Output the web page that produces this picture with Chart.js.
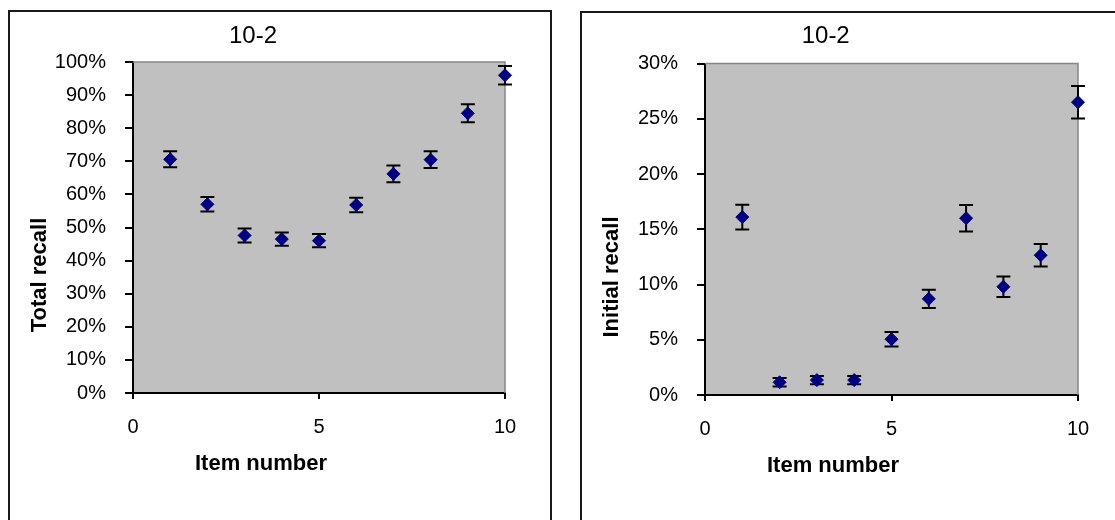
<!DOCTYPE html>
<html>
<head>
<meta charset="utf-8">
<script src="https://cdn.jsdelivr.net/npm/chart.js@4.4.1/dist/chart.umd.min.js"></script>
<style>
  html, body { margin: 0; padding: 0; background: #fff; width: 1115px; height: 520px; overflow: hidden; }
  .frame { position: absolute; box-sizing: border-box; border: 2px solid #1a1a1a; }
  #frameTotal { left: 8px; top: 10px; width: 544px; height: 620px; }
  #frameInitial { left: 580px; top: 11px; width: 620px; height: 620px; }
  canvas { position: absolute; top: 0; }
  #totalChart { left: 0; }
  #initialChart { left: 560px; }
</style>
</head>
<body>
<div class="frame" id="frameTotal"></div>
<div class="frame" id="frameInitial"></div>
<canvas id="totalChart" width="560" height="520" style="width:560px;height:520px"></canvas>
<canvas id="initialChart" width="555" height="520" style="width:555px;height:520px"></canvas>
<script>
// Serial position data for list 10-2 (percent of participants)
const chartTitle = '10-2';
const itemNumbers = [1, 2, 3, 4, 5, 6, 7, 8, 9, 10];
const totalRecall = [70.6, 57.0, 47.6, 46.5, 46.0, 56.8, 66.2, 70.5, 84.5, 96.0];
const totalRecallErr = [2.4, 2.2, 2.1, 2.0, 2.0, 2.2, 2.5, 2.5, 2.7, 2.8];
const initialRecall = [16.1, 1.15, 1.35, 1.35, 5.05, 8.7, 16.0, 9.8, 12.65, 26.5];
const initialRecallErr = [1.12, 0.38, 0.38, 0.38, 0.66, 0.83, 1.2, 0.93, 1.02, 1.47];
const xTicks = [0, 5, 10];
const totalTicks = [0, 10, 20, 30, 40, 50, 60, 70, 80, 90, 100];
const initialTicks = [0, 5, 10, 15, 20, 25, 30];
const xAxisTitle = 'Item number';
const totalAxisTitle = 'Total recall';
const initialAxisTitle = 'Initial recall';

const FONT = '"Liberation Sans", Arial, Helvetica, sans-serif';
Chart.defaults.font.family = FONT;
Chart.defaults.color = '#000';

// Grey plotting area with a thin grey frame on the top and right edges
const plotBackground = {
  id: 'plotBackground',
  beforeDraw(chart) {
    const { ctx, chartArea: a } = chart;
    ctx.save();
    ctx.fillStyle = '#c0c0c0';
    ctx.fillRect(a.left, a.top, a.right - a.left, a.bottom - a.top);
    ctx.restore();
  },
  beforeDatasetsDraw(chart) {
    const { ctx, chartArea: a } = chart;
    ctx.save();
    ctx.strokeStyle = '#858585';
    ctx.lineWidth = 1.5;
    ctx.beginPath();
    ctx.moveTo(a.left, a.top);
    ctx.lineTo(a.right, a.top);
    ctx.lineTo(a.right, a.bottom);
    ctx.stroke();
    ctx.restore();
  }
};

// Vertical error bars with caps, drawn beneath the markers
const errorBars = {
  id: 'errorBars',
  beforeDatasetsDraw(chart, args, opts) {
    const { ctx, scales: { x, y } } = chart;
    ctx.save();
    ctx.strokeStyle = opts.color;
    ctx.lineWidth = opts.width;
    chart.data.datasets.forEach(ds => {
      if (!ds.errors) return;
      ds.data.forEach((pt, i) => {
        const px = x.getPixelForValue(pt.x);
        const top = y.getPixelForValue(pt.y + ds.errors[i]);
        const bot = y.getPixelForValue(pt.y - ds.errors[i]);
        ctx.beginPath();
        ctx.moveTo(px, top); ctx.lineTo(px, bot);
        ctx.moveTo(px - opts.cap, top); ctx.lineTo(px + opts.cap, top);
        ctx.moveTo(px - opts.cap, bot); ctx.lineTo(px + opts.cap, bot);
        ctx.stroke();
      });
    });
    ctx.restore();
  }
};

// Axis captions placed relative to the plotting area
const axisCaptions = {
  id: 'axisCaptions',
  afterDraw(chart, args, opts) {
    const { ctx, chartArea: a } = chart;
    ctx.save();
    ctx.fillStyle = '#000';
    ctx.font = 'bold ' + opts.size + 'px ' + FONT;
    ctx.textAlign = 'center';
    ctx.textBaseline = 'middle';
    ctx.fillText(opts.xText, a.left + opts.xDx, a.bottom + opts.xDy);
    ctx.translate(a.left - opts.yDx, a.bottom - opts.yDy);
    ctx.rotate(-Math.PI / 2);
    ctx.fillText(opts.yText, 0, 0);
    ctx.restore();
  }
};

function buildChart(canvasId, values, errors, yTicks, yTitle, geom) {
  const points = itemNumbers.map((n, i) => ({ x: n, y: values[i] }));
  return new Chart(document.getElementById(canvasId), {
    type: 'scatter',
    data: {
      datasets: [{
        data: points,
        errors: errors,
        pointStyle: 'rectRot',
        pointRadius: 6.5,
        pointHoverRadius: 6.5,
        backgroundColor: '#000080',
        borderColor: '#000080',
        borderWidth: 1,
        clip: false
      }]
    },
    options: {
      responsive: false,
      animation: false,
      events: [],
      layout: { padding: { left: geom.padLeft, right: geom.padRight, top: 0, bottom: 0 } },
      plugins: {
        legend: { display: false },
        tooltip: { enabled: false },
        title: {
          display: true,
          text: chartTitle,
          color: '#000',
          font: { size: 24, weight: 'normal', lineHeight: 1.2 },
          padding: { top: geom.titleTop, bottom: geom.titleBottom }
        },
        errorBars: { color: '#000', width: 2, cap: 7 },
        axisCaptions: {
          size: 22, xText: xAxisTitle, yText: yTitle,
          xDx: 128, xDy: 71, yDx: 93, yDy: 118
        }
      },
      scales: {
        x: {
          type: 'linear',
          min: 0, max: 10,
          afterBuildTicks: s => { s.ticks = xTicks.map(v => ({ value: v })); },
          afterFit: s => { s.height = geom.xHeight; },
          grid: { drawOnChartArea: false, drawTicks: true, tickLength: 6, color: '#000', lineWidth: 2 },
          border: { display: true, color: '#000', width: 2 },
          ticks: { font: { size: 20 }, padding: 16, maxRotation: 0, color: '#000' }
        },
        y: {
          type: 'linear',
          min: yTicks[0], max: yTicks[yTicks.length - 1],
          afterBuildTicks: s => { s.ticks = yTicks.map(v => ({ value: v })); },
          afterFit: s => { s.width = geom.yWidth; },
          grid: { drawOnChartArea: false, drawTicks: true, tickLength: 8, color: '#000', lineWidth: 2 },
          border: { display: true, color: '#000', width: 2 },
          ticks: { font: { size: 20 }, padding: 19, color: '#000', callback: v => v + '%' }
        }
      }
    },
    plugins: [plotBackground, errorBars, axisCaptions]
  });
}

buildChart('totalChart', totalRecall, totalRecallErr, totalTicks, totalAxisTitle, {
  padLeft: 1, padRight: 55, yWidth: 132, xHeight: 127, titleTop: 21.6, titleBottom: 11.6
});
buildChart('initialChart', initialRecall, initialRecallErr, initialTicks, initialAxisTitle, {
  padLeft: 13.4, padRight: 37, yWidth: 131.6, xHeight: 125, titleTop: 22.3, titleBottom: 12.4
});
</script>
</body>
</html>
